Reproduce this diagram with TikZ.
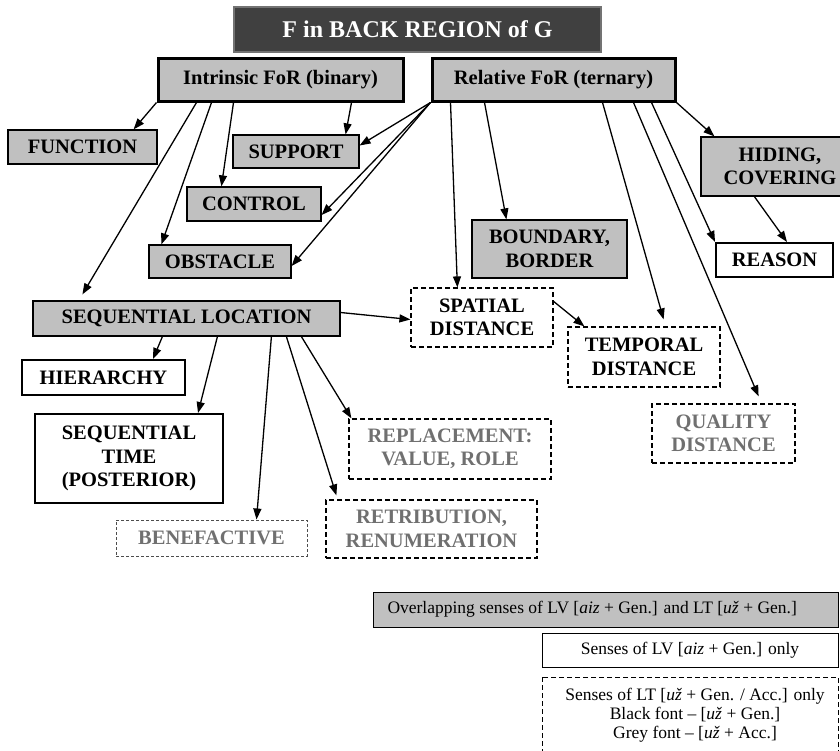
\documentclass[tikz,border=0pt]{standalone}
\usepackage{fontspec}
\setmainfont{Liberation Serif}
\usetikzlibrary{arrows.meta}

\definecolor{boxgrey}{RGB}{192,192,192}
\definecolor{titlegrey}{RGB}{64,64,64}
\definecolor{textgrey}{RGB}{112,112,112}

\begin{document}
\begin{tikzpicture}[x=1pt,y=-1pt,
	box/.style={rectangle,inner sep=0pt,align=center,font=\fontsize{20.5}{23.5}\selectfont\bfseries},
	greybox/.style={box,draw,fill=boxgrey,line width=1.2pt},
	mainbox/.style={box,draw,fill=boxgrey,line width=3pt},
	whitebox/.style={box,draw,fill=white,line width=2pt},
	dashbox/.style={box,draw,line width=1.2pt,dash pattern=on 5pt off 3pt},
	greytext/.style={text=textgrey},
	legend/.style={rectangle,inner sep=0pt,align=center,font=\fontsize{17.5}{19}\selectfont},
	arr/.style={line width=1.3pt,-{Triangle[length=11pt,width=8pt]}}]
	\useasboundingbox (0,0) rectangle (840,750);
	\node[box,draw=black!55,fill=titlegrey,line width=1.5pt,text=white,font=\fontsize{24}{28}\selectfont\bfseries,
		minimum width=367pt,minimum height=45pt] (title) at (417.5,29.5) {F in BACK REGION of G};
	\node[mainbox,minimum width=245pt,minimum height=43pt] (intr) at (280.5,79.5) {Intrinsic FoR (binary)};
	\node[mainbox,minimum width=243pt,minimum height=43pt] (rel) at (553.5,79.5) {Relative FoR (ternary)};
	% серые: общие значения
	\node[greybox,minimum width=149pt,minimum height=34pt] (func) at (82.5,147) {FUNCTION};
	\node[greybox,minimum width=126pt,minimum height=33pt] (supp) at (296,151.5) {SUPPORT};
	\node[greybox,minimum width=134pt,minimum height=34pt] (ctrl) at (254,204) {CONTROL};
	\node[greybox,minimum width=142pt,minimum height=33pt] (obst) at (220,261.5) {OBSTACLE};
	\node[greybox,minimum width=307pt,minimum height=35pt] (seqloc) at (186.5,318.5) {SEQUENTIAL LOCATION};
	\node[greybox,minimum width=155pt,minimum height=58pt] (bound) at (549.5,249) {BOUNDARY,\\BORDER};
	\node[greybox,minimum width=158pt,minimum height=59pt] (hide) at (780,166.5) {HIDING,\\COVERING};
	% белые: только LV
	\node[whitebox,minimum width=117pt,minimum height=34pt] (reason) at (774.5,260) {REASON};
	\node[whitebox,minimum width=163pt,minimum height=35pt] (hier) at (103.5,377.5) {HIERARCHY};
	\node[whitebox,minimum width=188pt,minimum height=89pt] (seqtime) at (129,458.5) {SEQUENTIAL\\TIME\\(POSTERIOR)};
	% пунктир: только LT
	\node[dashbox,minimum width=142pt,minimum height=59pt] (spat) at (482,317.5) {SPATIAL\\DISTANCE};
	\node[dashbox,minimum width=152pt,minimum height=60pt] (temp) at (644,357) {TEMPORAL\\DISTANCE};
	\node[dashbox,greytext,minimum width=143pt,minimum height=59pt] (qual) at (723.5,433.5) {QUALITY\\DISTANCE};
	\node[dashbox,greytext,minimum width=202pt,minimum height=60pt] (repl) at (450,449) {REPLACEMENT:\\VALUE, ROLE};
	\node[dashbox,greytext,minimum width=211pt,minimum height=58pt] (retr) at (431.5,529) {RETRIBUTION,\\RENUMERATION};
	\node[dashbox,greytext,draw=black!70,line width=1pt,dash pattern=on 3pt off 2pt,
		minimum width=191pt,minimum height=36pt] (bene) at (211.5,538) {BENEFACTIVE};

	\draw[arr] (intr.south west) -- ([xshift=-24pt]func.north east);
	\draw[arr] ([xshift=40pt]intr.south west) -- ([xshift=50pt,yshift=6pt]seqloc.north west);
	\draw[arr] ([xshift=55pt]intr.south west) -- ([xshift=13pt]obst.north west);
	\draw[arr] ([xshift=77pt]intr.south west) -- ([xshift=35pt]ctrl.north west);
	\draw[arr] ([xshift=-53pt]intr.south east) -- ([xshift=-14pt]supp.north east);

	\draw[arr] (rel.south west) -- ([yshift=6pt]supp.east);
	\draw[arr] (rel.south west) -- ([yshift=-11pt]ctrl.east);
	\draw[arr] (rel.south west) -- ([yshift=-4.5pt]obst.east);
	\draw[arr] ([xshift=20pt]rel.south west) -- ([xshift=47pt]spat.north west);
	\draw[arr] ([xshift=54pt]rel.south west) -- ([xshift=35pt]bound.north west);
	\draw[arr] ([xshift=-74pt]rel.south east) -- ([xshift=-57pt,yshift=7pt]temp.north east);
	\draw[arr] ([xshift=-43pt]rel.south east) -- ([xshift=-37pt,yshift=7pt]qual.north east);
	\draw[arr] ([xshift=-25pt]rel.south east) -- (reason.north west);
	\draw[arr] (rel.south east) -- ([xshift=14pt]hide.north west);
	\draw[arr] ([xshift=54pt]hide.south west) -- ([xshift=72pt]reason.north west);

	\draw[arr] ([yshift=6pt]seqloc.east) -- ([yshift=-2pt]spat.west);
	\draw[arr] ([yshift=-14pt]spat.north east) -- ([xshift=17pt]temp.north west);
	\draw[arr] ([xshift=130pt]seqloc.south west) -- ([xshift=-33pt]hier.north east);
	\draw[arr] ([xshift=185pt]seqloc.south west) -- ([xshift=-26pt]seqtime.north east);
	\draw[arr] ([xshift=239pt]seqloc.south west) -- ([xshift=141pt]bene.north west);
	\draw[arr] ([xshift=254pt]seqloc.south west) -- ([xshift=11pt,yshift=4pt]retr.north west);
	\draw[arr] ([xshift=269pt]seqloc.south west) -- ([xshift=3pt]repl.north west);

	% легенда
	\node[legend,draw,fill=boxgrey,line width=1pt,minimum height=35pt,text width=437pt,inner xsep=14pt,
		align=flush left,anchor=west] (legA) at (373,609.5) {Overlapping senses of LV [\textit{aiz} + Gen.] and LT [\textit{už} + Gen.]};
	\node[legend,draw,line width=1pt,minimum width=296pt,minimum height=34pt] (legB) at (690,650)
		{Senses of LV [\textit{aiz} + Gen.] only};
	\draw[line width=1pt,dash pattern=on 5pt off 3pt] (542,677) rectangle (838,780);
	\node[legend] (legC) at (695,715) {Senses of LT [\textit{už} + Gen. / Acc.] only\\
		Black font – [\textit{už} + Gen.]\\Grey font – [\textit{už} + Acc.]};
\end{tikzpicture}
\end{document}
